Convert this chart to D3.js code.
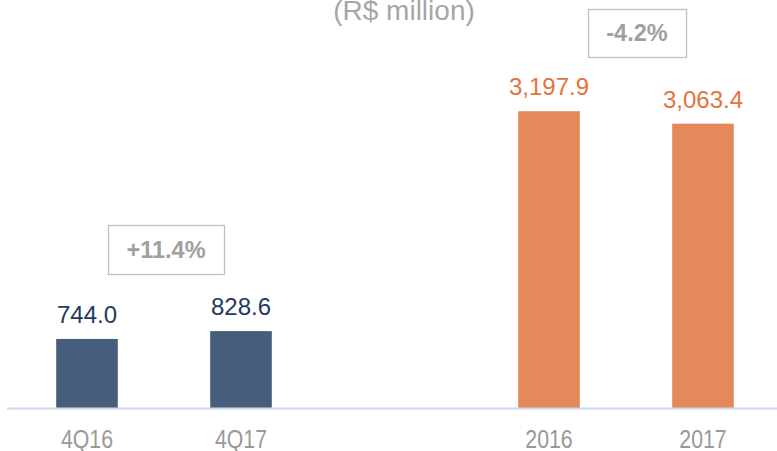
<!DOCTYPE html>
<html>
<head>
<meta charset="utf-8">
<script src="https://cdn.jsdelivr.net/npm/d3@7"></script>
<style>
  html, body { margin: 0; padding: 0; background: #fff; }
  svg { display: block; }
</style>
</head>
<body>
<div id="chart"></div>
<script>
// categories (empty slot between quarter and year groups)
const categories = ["4Q16", "4Q17", "", "2016", "2017"];
const values = [744.0, 828.6, null, 3197.9, 3063.4];
const valueLabels = ["744.0", "828.6", "", "3,197.9", "3,063.4"];
const groups = ["q", "q", "", "y", "y"];
const title = "(R$ million)";
const changes = [
  { from: "4Q16", to: "4Q17", text: "+11.4%" },
  { from: "2016", to: "2017", text: "-4.2%" }
];

const W = 777, H = 451;
const colors = {
  q: { bar: "#475d7c", label: "#1f3864" },
  y: { bar: "#e4895a", label: "#e2743d" }
};

const svg = d3.select("#chart").append("svg")
  .attr("width", W).attr("height", H);

// 1) scales
const x = d3.scaleBand()
  .domain(categories.map((c, i) => i))
  .range([10, 780])
  .paddingInner(0.6)
  .paddingOuter(0.3);

const y = d3.scaleLinear()
  .domain([0, 3200])
  .range([408, 111]);

const data = categories.map((c, i) => ({
  i, cat: c, v: values[i], label: valueLabels[i], grp: groups[i]
})).filter(d => d.v != null);

// 2) title (clipped at top in the original)
svg.append("text")
  .attr("x", 404).attr("y", 20)
  .attr("text-anchor", "middle")
  .attr("font-family", "Liberation Sans, Arial, sans-serif")
  .attr("font-size", 28)
  .attr("fill", "#a6a6a6")
  .text(title);

// 3) bars
svg.selectAll("rect.bar")
  .data(data)
  .join("rect")
  .attr("class", "bar")
  .attr("x", d => x(d.i))
  .attr("width", x.bandwidth())
  .attr("y", d => y(d.v))
  .attr("height", d => y(0) - y(d.v))
  .attr("fill", d => colors[d.grp].bar);

// 4) baseline
svg.append("line")
  .attr("x1", 7).attr("x2", W)
  .attr("y1", y(0) + 0.5).attr("y2", y(0) + 0.5)
  .attr("stroke", "#cfdcf0")
  .attr("stroke-width", 2);

// 5) value labels
svg.selectAll("text.val")
  .data(data)
  .join("text")
  .attr("class", "val")
  .attr("x", d => x(d.i) + x.bandwidth() / 2)
  .attr("y", d => y(d.v) - 16)
  .attr("text-anchor", "middle")
  .attr("font-family", "Liberation Sans, Arial, sans-serif")
  .attr("font-size", 24)
  .attr("fill", d => colors[d.grp].label)
  .text(d => d.label);

// 6) category labels (condensed look, squeezed horizontally)
svg.selectAll("text.cat")
  .data(data)
  .join("text")
  .attr("class", "cat")
  .attr("transform", d => `translate(${x(d.i) + x.bandwidth() / 2},448) scale(0.82,1)`)
  .attr("text-anchor", "middle")
  .attr("font-family", "Liberation Sans, Arial, sans-serif")
  .attr("font-size", 26)
  .attr("fill", "#999999")
  .text(d => d.cat);

// 7) change boxes
const idx = c => categories.indexOf(c);
const boxes = [
  { w: 116, h: 49, dx: 2, top: 225 },
  { w: 98, h: 48, dx: 11, top: 9 }
];
changes.forEach((c, k) => {
  const b = boxes[k];
  const cx = (x(idx(c.from)) + x(idx(c.to)) + x.bandwidth()) / 2 + b.dx;
  const gb = svg.append("g");
  gb.append("rect")
    .attr("x", cx - b.w / 2 + 0.5).attr("y", b.top + 0.5)
    .attr("width", b.w).attr("height", b.h)
    .attr("fill", "#fff")
    .attr("stroke", "#bfbfbf")
    .attr("stroke-width", 1.3);
  gb.append("text")
    .attr("x", cx).attr("y", b.top + b.h / 2 + 8)
    .attr("text-anchor", "middle")
    .attr("font-family", "Liberation Sans, Arial, sans-serif")
    .attr("font-weight", "bold")
    .attr("font-size", 23.5)
    .attr("fill", "#a0a0a0")
    .text(c.text);
});
</script>
</body>
</html>
